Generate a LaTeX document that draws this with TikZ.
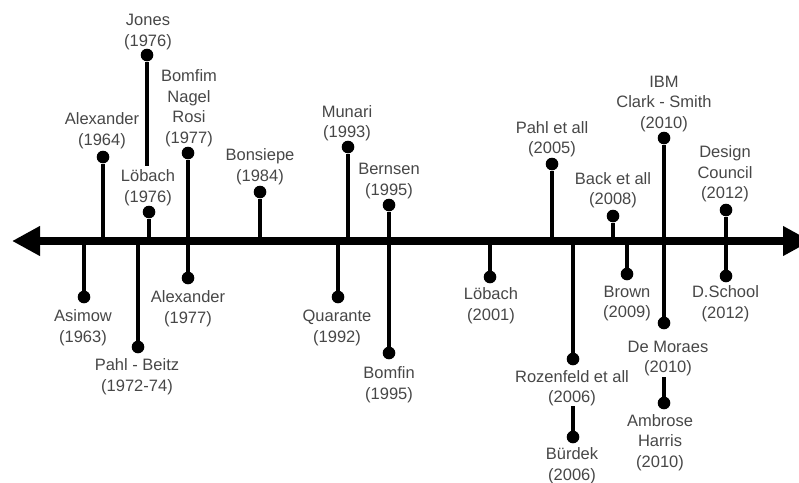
\documentclass[tikz,border=0pt]{standalone}
\usepackage{fontspec}
\setmainfont{Liberation Sans}
\usetikzlibrary{arrows.meta}
\definecolor{labelgray}{HTML}{474747}
\tikzset{
  dot/.style={circle, fill=black, inner sep=0pt, minimum size=12.6pt},
  stem/.style={line width=4.4pt, black},
  axisline/.style={line width=8pt, black,
    {Triangle[length=28pt,width=28pt]}-{Triangle[length=28pt,width=28pt]}},
  lbl/.style={align=center, inner sep=0pt, text=labelgray,
    font=\fontsize{16.5}{20.5}\selectfont},
}
\begin{document}
\begin{tikzpicture}[x=1pt,y=-1pt]
\useasboundingbox (0,0) rectangle (799,482);
\clip (0,0) rectangle (799,482);

% time axis
\coordinate (axL) at (12,241);
\coordinate (axR) at (811,241);
\draw[axisline] (axL) -- (axR);

% ---- events above the axis ----
\node[dot] (alex64) at (103,157) {};
\node[lbl] (alex64t) at (102,130.5) {Alexander\\(1964)};
\draw[stem] (alex64) -- (alex64 |- axL);

\node[dot] (jones) at (147,55) {};
\node[lbl] (jonest) at (148,32) {Jones\\(1976)};
\coordinate (jonesend) at (147,166);
\draw[stem] (jones) -- (jonesend);

\node[dot] (lob76) at (149,212) {};
\node[lbl] (lob76t) at (148,187.5) {Löbach\\(1976)};
\draw[stem] (lob76) -- (lob76 |- axL);

\node[dot] (bnr) at (188,153) {};
\node[lbl] (bnrt) at (189,108) {Bomfim\\Nagel\\Rosi\\(1977)};

\node[dot] (bons) at (260,192) {};
\node[lbl] (bonst) at (260,166.5) {Bonsiepe\\(1984)};
\draw[stem] (bons) -- (bons |- axL);

\node[dot] (munari) at (348,147) {};
\node[lbl] (munarit) at (347,123) {Munari\\(1993)};
\draw[stem] (munari) -- (munari |- axL);

\node[dot] (bernsen) at (389,205) {};
\node[lbl] (bernsent) at (389,181) {Bernsen\\(1995)};

\node[dot] (pahl05) at (552,164) {};
\node[lbl] (pahl05t) at (552,139) {Pahl et all\\(2005)};
\draw[stem] (pahl05) -- (pahl05 |- axL);

\node[dot] (back08) at (613,216) {};
\node[lbl] (back08t) at (613,190) {Back et all\\(2008)};
\draw[stem] (back08) -- (back08 |- axL);

\node[dot] (ibm) at (664,138) {};
\node[lbl] (ibmt) at (664,104) {IBM\\Clark - Smith\\(2010)};

\node[dot] (design) at (726,210) {};
\node[lbl] (designt) at (725,174) {Design\\Council\\(2012)};

% ---- events below the axis ----
\node[dot] (asimow) at (84,297) {};
\node[lbl] (asimowt) at (83,327.5) {Asimow\\(1963)};
\draw[stem] (asimow) -- (asimow |- axL);

\node[dot] (pahlbeitz) at (138,347) {};
\node[lbl] (pahlbeitzt) at (137,376.5) {Pahl - Beitz\\(1972-74)};
\draw[stem] (pahlbeitz) -- (pahlbeitz |- axL);

\node[dot] (alex77) at (188,278) {};
\node[lbl] (alex77t) at (188,308.5) {Alexander\\(1977)};
\draw[stem] (bnr) -- (alex77);

\node[dot] (quarante) at (338,297) {};
\node[lbl] (quarantet) at (337,328) {Quarante\\(1992)};
\draw[stem] (quarante) -- (quarante |- axL);

\node[dot] (bomfin) at (389,353) {};
\node[lbl] (bomfint) at (389,384.5) {Bomfin\\(1995)};
\draw[stem] (bernsen) -- (bomfin);

\node[dot] (lob01) at (490,277) {};
\node[lbl] (lob01t) at (491,305.5) {Löbach\\(2001)};
\draw[stem] (lob01) -- (lob01 |- axL);

\node[dot] (rozen) at (573,359) {};
\node[lbl] (rozent) at (572,388) {Rozenfeld et all\\(2006)};
\draw[stem] (rozen) -- (rozen |- axL);

\node[dot] (burdek) at (573,437) {};
\node[lbl] (burdekt) at (572,465.5) {Bürdek\\(2006)};
\coordinate (burdektop) at (573,406);
\draw[stem] (burdektop) -- (burdek);

\node[dot] (brown) at (627,274) {};
\node[lbl] (brownt) at (627,303.5) {Brown\\(2009)};
\draw[stem] (brown) -- (brown |- axL);

\node[dot] (demoraes) at (664,323) {};
\node[lbl] (demoraest) at (668,358.5) {De Moraes\\(2010)};
\draw[stem] (ibm) -- (demoraes);

\node[dot] (ambrose) at (664,403) {};
\node[lbl] (ambroset) at (660,442.5) {Ambrose\\Harris\\(2010)};
\coordinate (ambrosetop) at (664,377);
\draw[stem] (ambrosetop) -- (ambrose);

\node[dot] (dschool) at (726,276) {};
\node[lbl] (dschoolt) at (725.5,303.5) {D.School\\(2012)};
\draw[stem] (design) -- (dschool);
\end{tikzpicture}
\end{document}
